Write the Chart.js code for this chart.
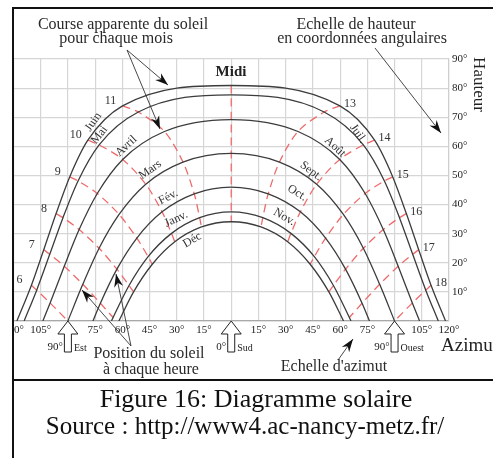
<!DOCTYPE html>
<html>
<head>
<meta charset="utf-8">
<script src="https://cdn.jsdelivr.net/npm/chart.js@4.4.0/dist/chart.umd.min.js"></script>
<style>
  body { margin: 0; background: #fff; }
  #wrap { position: relative; width: 493px; height: 458px; overflow: hidden; background: #fff;
          font-family: 'Liberation Serif', 'Times New Roman', serif; color: #222; }
  #c { position: absolute; left: 0; top: 0; }
  #cover { position: absolute; left: 0; top: 0; width: 12px; height: 458px; background: #fff; }
  #frame { position: absolute; left: 12px; top: 7px; width: 500px; height: 470px;
           border: 2px solid #111; box-sizing: border-box; }
  #sep { position: absolute; left: 12px; top: 379px; width: 490px; height: 2px; background: #111; }
  .a { position: absolute; white-space: nowrap; line-height: 1; transform: translateX(-50%); }
  .ann { font-size: 16px; color: #2a2a2a; }
  .cap { font-size: 25px; color: #111; }
</style>
</head>
<body>
<div id="wrap">
  <canvas id="c" width="493" height="458"></canvas>
  <div id="cover"></div>
  <div id="frame"></div>
  <div id="sep"></div>

  <div class="a ann" style="left:123px;top:16px">Course apparente du soleil</div>
  <div class="a ann" style="left:116px;top:30px">pour chaque mois</div>
  <div class="a ann" style="left:356px;top:16px">Echelle de hauteur</div>
  <div class="a ann" style="left:362px;top:30px">en coordonnées angulaires</div>
  <div class="a" style="left:231px;top:64px;font-size:15px;font-weight:bold;color:#222">Midi</div>
  <div class="a" style="left:479px;top:76px;font-size:17px;transform:translate(-50%,0) rotate(90deg)">Hauteur</div>
  <div class="a ann" style="left:149px;top:345px">Position du soleil</div>
  <div class="a ann" style="left:151px;top:361px">à chaque heure</div>
  <div class="a ann" style="left:334px;top:358px">Echelle d'azimut</div>
  <div class="a" style="left:441px;top:335px;font-size:19px;transform:none">Azimut</div>

  <div class="a cap" style="left:256px;top:386px;font-size:26px">Figure 16: Diagramme solaire</div>
  <div class="a cap" style="left:245px;top:413px">Source : http://www4.ac-nancy-metz.fr/</div>
</div>

<script>
// heures de passage (6 h ... 18 h)
const heures = [6, 7, 8, 9, 10, 11, 12, 13, 14, 15, 16, 17, 18];
const moisGauche = ['Juin', 'Mai', 'Avril', 'Mars', 'Fév.', 'Janv.', 'Déc'];
const moisDroite = ['', 'Juil.', 'Août', 'Sept.', 'Oct.', 'Nov.', ''];

// azimut du soleil à chaque heure (°, négatif = côté est)
const azJuin  = [-110.1, -103.3, -96.5, -89.0, -79.0, -59.9, 0, 59.9, 79.0, 89.0, 96.5, 103.3, 110.1];
const azMai   = [-107.2, -100.0, -92.7, -84.4, -72.8, -51.2, 0, 51.2, 72.8, 84.4, 92.7, 100.0, 107.2];
const azAvril = [-99.8, -92.0, -83.8, -73.8, -59.8, -36.8, 0, 36.8, 59.8, 73.8, 83.8, 92.0, 99.8];
const azMars  = [-90.0, -81.8, -72.8, -61.8, -47.1, -26.6, 0, 26.6, 47.1, 61.8, 72.8, 81.8, 90.0];
const azFev   = [null, -72.1, -63.0, -52.0, -38.1, -20.4, 0, 20.4, 38.1, 52.0, 63.0, 72.1, null];
const azJanv  = [null, -65.1, -56.3, -45.8, -32.9, -17.4, 0, 17.4, 32.9, 45.8, 56.3, 65.1, null];
const azDec   = [null, null, -53.8, -43.5, -31.1, -16.4, 0, 16.4, 31.1, 43.5, 53.8, null, null];

// hauteur du soleil à chaque heure (°)
const htJuin  = [12.3, 24.5, 36.9, 49.5, 62.1, 73.9, 80.9, 73.9, 62.1, 49.5, 36.9, 24.5, 12.3];
const htMai   = [10.6, 22.9, 35.5, 48.1, 60.5, 71.8, 77.7, 71.8, 60.5, 48.1, 35.5, 22.9, 10.6];
const htAvril = [6.2, 18.8, 31.4, 43.8, 55.5, 65.1, 69.2, 65.1, 55.5, 43.8, 31.4, 18.8, 6.2];
const htMars  = [0, 12.6, 25.0, 36.6, 47.0, 54.6, 57.6, 54.6, 47.0, 36.6, 25.0, 12.6, 0];
const htFev   = [null, 6.1, 17.8, 28.5, 37.5, 43.7, 46.0, 43.7, 37.5, 28.5, 17.8, 6.1, null];
const htJanv  = [null, 1.2, 12.2, 22.1, 30.1, 35.5, 37.5, 35.5, 30.1, 22.1, 12.2, 1.2, null];
const htDec   = [null, null, 10.0, 19.5, 27.2, 32.3, 34.1, 32.3, 27.2, 19.5, 10.0, null, null];

// azimut du lever / coucher (hauteur 0°)
const leverAz = [118.1, 114.1, 103.8, 90.0, 76.2, 66.0, 61.9];

// graduations
const azGrad = [-120, -105, -90, -75, -60, -45, -30, -15, 0, 15, 30, 45, 60, 75, 90, 105, 120];
const htGrad = [0, 10, 20, 30, 40, 50, 60, 70, 80, 90];
const reperes = [[-90, '90°', 'Est'], [0, '0°', 'Sud'], [90, '90°', 'Ouest']];

const tabAz = [azJuin, azMai, azAvril, azMars, azFev, azJanv, azDec];
const tabHt = [htJuin, htMai, htAvril, htMars, htFev, htJanv, htDec];

// position des noms de mois (az, haut, rotation)
const posGauche = [[-76, 68.4, -55], [-72.6, 63.9, -52], [-57.8, 60.1, -43], [-44.6, 51.9, -35],
                   [-34.7, 42.6, -28], [-30.3, 35.0, -25], [-21.5, 27.8, -30]];
const posDroite = [null, [69.9, 64.3, 55], [57.2, 59.8, 43], [44.0, 51.5, 37],
                   [36.3, 44.0, 32], [29.2, 35.7, 30], null];

var datasets = [];

// courses du soleil
tabAz.forEach(function(az, m) {
  var ht = tabHt[m];
  var pts = [];
  for (var k = 0; k < heures.length; k++) {
    if (az[k] !== null) pts.push({x: az[k], y: ht[k]});
  }
  if (pts[0].y > 0) pts.unshift({x: -leverAz[m], y: 0});
  if (pts[pts.length - 1].y > 0) pts.push({x: leverAz[m], y: 0});
  datasets.push({
    data: pts, borderColor: '#3c3c3c', borderWidth: 1.3, pointRadius: 0,
    cubicInterpolationMode: 'monotone', order: 1
  });
});

// lignes horaires
heures.forEach(function(h, k) {
  var pts = [];
  tabAz.forEach(function(az, m) {
    if (az[k] !== null) pts.push({x: az[k], y: tabHt[m][k]});
  });
  datasets.push({
    data: pts, borderColor: '#ef6b6b', borderWidth: 1.3, borderDash: [8, 5],
    pointRadius: 0, tension: 0.3, order: 2
  });
});

function fleche(ctx, x0, y0, x1, y1) {
  ctx.beginPath();
  ctx.moveTo(x0, y0);
  ctx.lineTo(x1, y1);
  ctx.stroke();
  var a = Math.atan2(y1 - y0, x1 - x0);
  ctx.beginPath();
  ctx.moveTo(x1, y1);
  ctx.lineTo(x1 - 13 * Math.cos(a) + 4.5 * Math.sin(a), y1 - 13 * Math.sin(a) - 4.5 * Math.cos(a));
  ctx.lineTo(x1 - 9 * Math.cos(a), y1 - 9 * Math.sin(a));
  ctx.lineTo(x1 - 13 * Math.cos(a) - 4.5 * Math.sin(a), y1 - 13 * Math.sin(a) + 4.5 * Math.cos(a));
  ctx.closePath();
  ctx.fill();
}

const decor = {
  id: 'decor',
  afterDatasetsDraw: function(chart) {
    var ctx = chart.ctx, xs = chart.scales.x, ys = chart.scales.y;
    ctx.save();
    ctx.fillStyle = '#333';
    ctx.font = "12px 'Liberation Serif'";
    ctx.textAlign = 'center';
    ctx.textBaseline = 'middle';

    // noms des mois
    function nom(txt, p) {
      if (!p || !txt) return;
      ctx.save();
      ctx.translate(xs.getPixelForValue(p[0]), ys.getPixelForValue(p[1]));
      ctx.rotate(p[2] * Math.PI / 180);
      ctx.fillText(txt, 0, 0);
      ctx.restore();
    }
    moisGauche.forEach(function(t, m) { nom(t, posGauche[m]); });
    moisDroite.forEach(function(t, m) { nom(t, posDroite[m]); });

    // numéros des heures au bout de la course de juin
    ctx.font = "12px 'Liberation Serif'";
    heures.forEach(function(h, k) {
      if (h === 12) return;
      var x = xs.getPixelForValue(azJuin[k]), y = ys.getPixelForValue(htJuin[k]);
      if (h < 12) ctx.fillText(String(h), x - 12, y - 5);
      else ctx.fillText(String(h), x + 10, y - 2);
    });

    // flèches creuses de l'axe des azimuts
    var yb = ys.getPixelForValue(0);
    ctx.strokeStyle = '#222';
    ctx.lineWidth = 1;
    reperes.forEach(function(r) {
      var x = xs.getPixelForValue(r[0]);
      ctx.beginPath();
      ctx.moveTo(x, yb);
      ctx.lineTo(x + 10, yb + 13);
      ctx.lineTo(x + 3.5, yb + 13);
      ctx.lineTo(x + 3.5, yb + 31);
      ctx.lineTo(x - 3.5, yb + 31);
      ctx.lineTo(x - 3.5, yb + 13);
      ctx.lineTo(x - 10, yb + 13);
      ctx.closePath();
      ctx.fillStyle = '#fff';
      ctx.fill();
      ctx.stroke();
      ctx.fillStyle = '#222';
      ctx.textBaseline = 'alphabetic';
      ctx.textAlign = 'right';
      ctx.font = "11px 'Liberation Serif'";
      ctx.fillText(r[1], x - 5, yb + 29);
      ctx.textAlign = 'left';
      ctx.font = "10px 'Liberation Serif'";
      ctx.fillText(r[2], x + 6, yb + 30);
    });

    // traits de rappel des légendes
    ctx.strokeStyle = '#333';
    ctx.fillStyle = '#111';
    ctx.lineWidth = 0.9;
    fleche(ctx, 127, 50, 168, 85);
    fleche(ctx, 127, 50, 160, 129);
    fleche(ctx, 375, 48, 441, 133);
    fleche(ctx, 131, 346, 82, 290);
    fleche(ctx, 131, 346, 116, 274);
    fleche(ctx, 338, 360, 353, 339);
    ctx.restore();
  }
};

var ctx = document.getElementById('c').getContext('2d');
var myChart = new Chart(ctx, {
  type: 'line',
  data: { datasets: datasets },
  plugins: [decor],
  options: {
    responsive: false,
    animation: false,
    layout: { padding: { left: 13, top: 59, right: 0, bottom: 0 }, autoPadding: false },
    plugins: { legend: { display: false }, tooltip: { enabled: false } },
    scales: {
      x: {
        type: 'linear', min: -120, max: 120,
        afterBuildTicks: function(s) { s.ticks = azGrad.map(function(v) { return {value: v}; }); },
        afterFit: function(s) { s.height = 137; },
        grid: { color: '#d6d6d6', lineWidth: 1.2, drawTicks: false },
        border: { color: '#a8a8a8', width: 1.2 },
        ticks: {
          autoSkip: false, maxRotation: 0, padding: 3, color: '#222',
          font: { family: 'Liberation Serif', size: 11 },
          callback: function(v) { return (v === 0 || Math.abs(v) === 90) ? '' : Math.abs(v) + '°'; }
        }
      },
      y: {
        type: 'linear', position: 'right', min: 0, max: 90,
        afterBuildTicks: function(s) { s.ticks = htGrad.map(function(v) { return {value: v}; }); },
        afterFit: function(s) { s.width = 44; },
        grid: { color: '#d6d6d6', lineWidth: 1.2, drawTicks: false },
        border: { color: '#cfcfcf', width: 1.2 },
        ticks: {
          padding: 3, color: '#222',
          font: { family: 'Liberation Serif', size: 11 },
          callback: function(v) { return v === 0 ? '' : v + '°'; }
        }
      }
    }
  }
});
</script>
</body>
</html>
